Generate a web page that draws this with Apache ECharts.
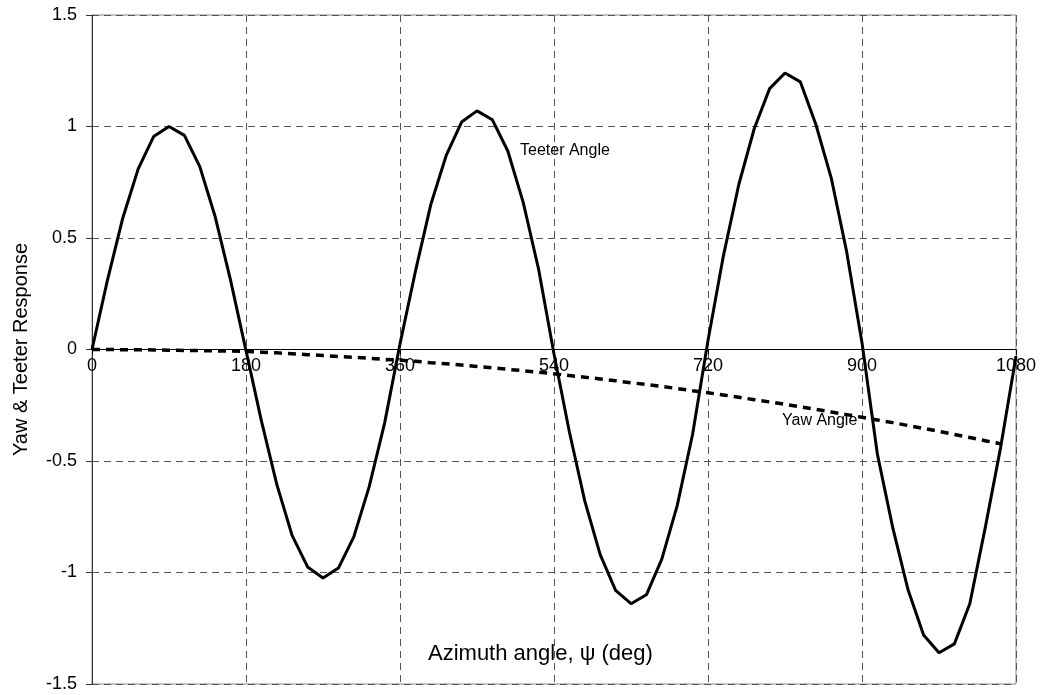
<!DOCTYPE html>
<html>
<head>
<meta charset="utf-8">
<script src="https://cdn.jsdelivr.net/npm/echarts@6/dist/echarts.min.js"></script>
<style>
  html, body { margin: 0; padding: 0; background: #fff; }
  #chart { width: 1041px; height: 695px; }
</style>
</head>
<body>
<div id="chart"></div>
<script>
// azimuth angle (deg), one point every 18 deg
var azimuth = [0, 18, 36, 54, 72, 90, 108, 126, 144, 162, 180,
  198, 216, 234, 252, 270, 288, 306, 324, 342, 360,
  378, 396, 414, 432, 450, 468, 486, 504, 522, 540,
  558, 576, 594, 612, 630, 648, 666, 684, 702, 720,
  738, 756, 774, 792, 810, 828, 846, 864, 882, 900,
  918, 936, 954, 972, 990, 1008, 1026, 1044, 1062, 1080];

// teeter angle
var teeter = [0, 0.31, 0.59, 0.81, 0.955, 1.0, 0.96, 0.82, 0.595, 0.31, -0.005,
  -0.32, -0.605, -0.835, -0.975, -1.025, -0.98, -0.84, -0.615, -0.33, 0.025,
  0.35, 0.65, 0.87, 1.02, 1.07, 1.03, 0.89, 0.66, 0.36, -0.02,
  -0.37, -0.68, -0.92, -1.08, -1.14, -1.10, -0.94, -0.70, -0.38, 0.04,
  0.42, 0.74, 0.99, 1.17, 1.24, 1.20, 1.01, 0.77, 0.44, 0.03,
  -0.47, -0.80, -1.08, -1.28, -1.36, -1.32, -1.14, -0.80, -0.44, -0.03];

// yaw angle (ends at 1062 deg)
var yaw = [0, 0, -0.001, -0.001, -0.002, -0.003, -0.004, -0.005, -0.006, -0.007, -0.009,
  -0.012, -0.015, -0.019, -0.023, -0.027, -0.031, -0.035, -0.039, -0.044, -0.048,
  -0.053, -0.059, -0.064, -0.070, -0.076, -0.082, -0.089, -0.095, -0.102, -0.109,
  -0.117, -0.124, -0.132, -0.140, -0.149, -0.157, -0.166, -0.175, -0.185, -0.194,
  -0.204, -0.214, -0.225, -0.235, -0.246, -0.257, -0.268, -0.280, -0.292, -0.304,
  -0.316, -0.328, -0.341, -0.354, -0.367, -0.381, -0.395, -0.409, -0.423];

var xTicks = { min: 0, max: 1080, step: 180 };
var yTicks = { min: -1.5, max: 1.5, step: 0.5 };

function pairs(xs, ys) {
  var out = [];
  for (var i = 0; i < ys.length; i++) out.push([xs[i], ys[i]]);
  return out;
}

var font = '"Liberation Sans", Arial, sans-serif';
var W = 1041, H = 695;
var gTop = 15, gBottom = 11, gLeft = 92, gRight = 25;
// x axis sits on y = 0, which is the middle of the plot
var zeroOffset = -(H - gTop - gBottom) * (0 - yTicks.min) / (yTicks.max - yTicks.min);

var myChart = echarts.init(document.getElementById('chart'));

var option = {
  animation: false,
  backgroundColor: '#fff',
  grid: {
    left: gLeft, right: gRight, top: gTop, bottom: gBottom,
    outerBoundsMode: 'none',
    containLabel: false,
    show: true,
    borderColor: '#888',
    borderWidth: 1
  },
  xAxis: {
    type: 'value',
    position: 'bottom',
    offset: zeroOffset,
    min: xTicks.min, max: xTicks.max, interval: xTicks.step,
    axisLine: { onZero: false, lineStyle: { color: '#000', width: 1 } },
    axisTick: { show: true, length: 5, lineStyle: { color: '#000' } },
    axisLabel: { color: '#000', fontSize: 18, fontFamily: font, margin: 8,
      showMaxLabel: true, showMinLabel: true,
      formatter: function (v) { return String(v); } },
    splitLine: { show: true, lineStyle: { color: '#555', type: [7, 5], width: 1 } }
  },
  yAxis: {
    type: 'value',
    min: yTicks.min, max: yTicks.max, interval: yTicks.step,
    name: 'Yaw & Teeter Response',
    nameLocation: 'middle',
    nameGap: 61,
    nameTextStyle: { color: '#000', fontSize: 20, fontFamily: font },
    axisLine: { show: true, onZero: false, lineStyle: { color: '#333', width: 1 } },
    axisTick: { show: true, length: 6, lineStyle: { color: '#333' } },
    axisLabel: { color: '#000', fontSize: 18, fontFamily: font, margin: 15 },
    splitLine: { show: true, lineStyle: { color: '#555', type: [7, 5], width: 1 } }
  },
  graphic: [
    { type: 'text', left: 520, top: 143,
      style: { text: 'Teeter Angle', fill: '#000', font: '16px ' + font } },
    { type: 'text', left: 782, top: 413,
      style: { text: 'Yaw Angle', fill: '#000', font: '16px ' + font } },
    { type: 'text', left: 428, top: 643,
      style: { text: 'Azimuth angle, \u03c8 (deg)', fill: '#000', font: '22px ' + font } }
  ],
  series: [
    {
      name: 'Teeter Angle',
      type: 'line',
      data: pairs(azimuth, teeter),
      showSymbol: false,
      lineStyle: { color: '#000', width: 3 },
      z: 3
    },
    {
      name: 'Yaw Angle',
      type: 'line',
      data: pairs(azimuth, yaw),
      showSymbol: false,
      lineStyle: { color: '#000', width: 3.5, type: [8, 6] },
      z: 2
    }
  ]
};

myChart.setOption(option);
</script>
</body>
</html>
